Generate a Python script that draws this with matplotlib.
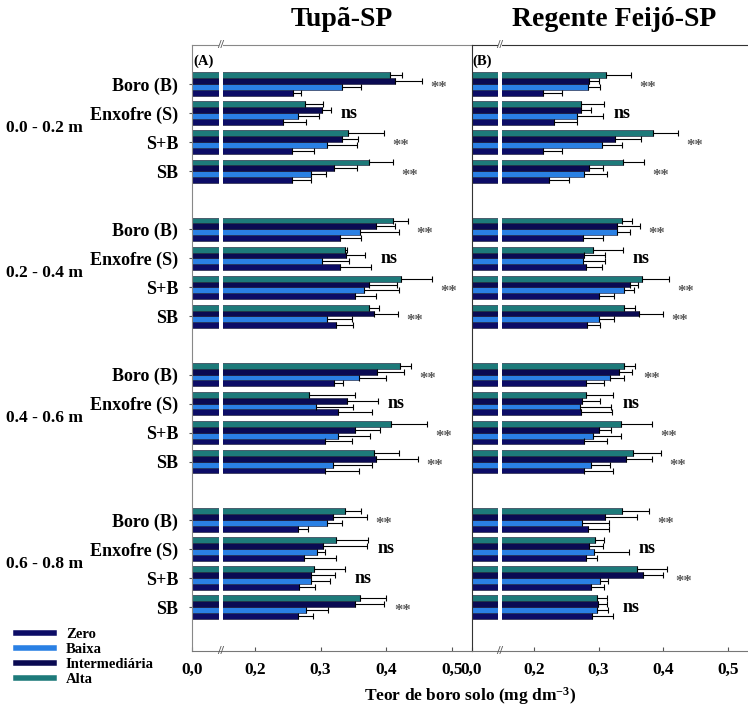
import numpy as np
import matplotlib
matplotlib.use("Agg")
import matplotlib.pyplot as plt
from matplotlib.lines import Line2D
from matplotlib.transforms import blended_transform_factory

plt.rcParams["font.family"] = ["Liberation Serif", "DejaVu Serif"]
plt.rcParams["font.weight"] = "bold"
plt.rcParams["mathtext.fontset"] = "custom"
plt.rcParams["mathtext.rm"] = "Liberation Serif:bold"
plt.rcParams["mathtext.bf"] = "Liberation Serif:bold"
plt.rcParams["mathtext.default"] = "bf"

# categories
sites = ["Tupã-SP", "Regente Feijó-SP"]
panel_tags = ["(A)", "(B)"]
treatments = ["Boro (B)", "Enxofre (S)", "S+B", "SB"]
depths = ["0.0 - 0.2 m", "0.2 - 0.4 m", "0.4 - 0.6 m", "0.6 - 0.8 m"]
levels = ["Zero", "Baixa", "Intermediária", "Alta"]
tick_vals = [0.0, 0.2, 0.3, 0.4, 0.5]

# Tupã-SP, 16 blocks: depth by depth, Boro / Enxofre / S+B / SB
tupa_zero = [0.258, 0.243, 0.257, 0.257, 0.330, 0.330, 0.352, 0.324,
             0.321, 0.326, 0.307, 0.306, 0.266, 0.275, 0.267, 0.265]
tupa_zero_err = [0.012, 0.034, 0.033, 0.028, 0.032, 0.047, 0.033, 0.026,
                 0.013, 0.052, 0.041, 0.053, 0.015, 0.049, 0.024, 0.023]
tupa_baixa = [0.332, 0.266, 0.309, 0.285, 0.360, 0.302, 0.366, 0.310,
              0.358, 0.293, 0.326, 0.319, 0.310, 0.295, 0.285, 0.277]
tupa_baixa_err = [0.029, 0.032, 0.047, 0.023, 0.059, 0.042, 0.053, 0.038,
                  0.042, 0.056, 0.050, 0.060, 0.023, 0.012, 0.030, 0.034]
tupa_inter = [0.413, 0.302, 0.333, 0.320, 0.385, 0.338, 0.373, 0.381,
              0.386, 0.340, 0.353, 0.385, 0.319, 0.303, 0.286, 0.353]
tupa_inter_err = [0.042, 0.014, 0.024, 0.035, 0.028, 0.029, 0.044, 0.037,
                  0.041, 0.047, 0.037, 0.063, 0.051, 0.067, 0.036, 0.044]
tupa_alta = [0.406, 0.276, 0.341, 0.373, 0.411, 0.337, 0.423, 0.374,
             0.421, 0.283, 0.408, 0.381, 0.337, 0.324, 0.290, 0.360]
tupa_alta_err = [0.018, 0.027, 0.056, 0.038, 0.022, 0.003, 0.046, 0.015,
                 0.016, 0.069, 0.054, 0.039, 0.024, 0.048, 0.047, 0.040]
tupa_sig = ["**", "ns", "**", "**", "**", "ns", "**", "**",
            "**", "ns", "**", "**", "**", "ns", "ns", "**"]

# Regente Feijó-SP
rf_zero = [0.214, 0.232, 0.215, 0.224, 0.276, 0.280, 0.300, 0.282,
           0.280, 0.273, 0.278, 0.278, 0.283, 0.281, 0.288, 0.290]
rf_zero_err = [0.029, 0.034, 0.028, 0.031, 0.031, 0.025, 0.024, 0.021,
               0.028, 0.048, 0.035, 0.044, 0.033, 0.017, 0.020, 0.032]
rf_baixa = [0.283, 0.266, 0.306, 0.277, 0.328, 0.276, 0.339, 0.300,
            0.318, 0.272, 0.291, 0.288, 0.274, 0.293, 0.302, 0.298]
rf_baixa_err = [0.019, 0.041, 0.030, 0.036, 0.020, 0.034, 0.016, 0.024,
                0.021, 0.048, 0.044, 0.029, 0.042, 0.054, 0.013, 0.017]
rf_inter = [0.285, 0.273, 0.325, 0.285, 0.328, 0.277, 0.348, 0.362,
            0.331, 0.274, 0.301, 0.342, 0.310, 0.285, 0.369, 0.299]
rf_inter_err = [0.015, 0.016, 0.040, 0.022, 0.036, 0.033, 0.013, 0.038,
                0.021, 0.028, 0.018, 0.041, 0.049, 0.022, 0.030, 0.014]
rf_alta = [0.312, 0.273, 0.384, 0.338, 0.336, 0.291, 0.367, 0.339,
           0.339, 0.280, 0.335, 0.353, 0.336, 0.295, 0.359, 0.298]
rf_alta_err = [0.038, 0.035, 0.039, 0.032, 0.015, 0.046, 0.041, 0.018,
               0.018, 0.042, 0.047, 0.044, 0.042, 0.014, 0.047, 0.015]
rf_sig = ["**", "ns", "**", "**", "**", "ns", "**", "**",
          "**", "ns", "**", "**", "**", "ns", "**", "ns"]

colors = ["#0c0c66", "#2a80e4", "#0a0a52", "#1d7a7a"]
bar_off = [0.3, 0.1, -0.1, -0.3]  # Zero at bottom, Alta on top

# broken x axis: 0 .. brk squeezed into a short segment
brk = 0.15
u0 = 0.104
k = (brk - u0) / brk


def fwd(x):
    x = np.asarray(x, dtype=float)
    return np.where(x < brk, u0 + k * x, x)


def inv(u):
    u = np.asarray(u, dtype=float)
    return np.where(u < brk, (u - u0) / k, u)


fig = plt.figure(figsize=(7.48, 7.10), dpi=100)
ax_a = fig.add_axes([0.2567, 0.0831, 0.3737, 0.8535])
ax_b = fig.add_axes([0.6304, 0.0831, 0.3690, 0.8535])

ypos = np.array([g * 5 + t for g in range(4) for t in range(4)], dtype=float)


def draw_panel(ax, means, errs, sig, tag, edge):
    ax.set_xscale("function", functions=(fwd, inv))
    for vals, err, c, off in zip(means, errs, colors, bar_off):
        ax.barh(ypos + off, vals, height=0.2, color=c, edgecolor="#151530",
                linewidth=0.4, xerr=[np.zeros(len(err)), err],
                error_kw=dict(ecolor="black", elinewidth=0.8, capsize=2, capthick=0.8),
                zorder=2)
    # white gap of the axis break through the bars
    ax.axvspan(inv(0.1455), 0.1505, color="white", zorder=3, lw=0)
    tops = np.max(np.array(means) + np.array(errs), axis=0)
    for yb, xe, s in zip(ypos, tops, sig):
        if s == "ns":
            ax.annotate(s, xy=(xe, yb), xytext=(7, 0), textcoords="offset points",
                        ha="left", va="center", fontsize=13, color="black")
        else:
            ax.annotate(s, xy=(xe, yb + 0.15), xytext=(6, 0), textcoords="offset points",
                        ha="left", va="center", fontsize=12, color="#5a5a5a")
    ax.set_xlim(0, 0.53)
    ax.set_ylim(19.51, -1.34)
    ax.set_xticks(tick_vals)
    ax.set_xticklabels([f"{v:.1f}".replace(".", ",") for v in tick_vals], fontsize=12.5)
    ax.minorticks_off()
    ax.tick_params(axis="x", direction="in", length=3, pad=8, color="#555555")
    ax.spines["right"].set_visible(False)
    for sp in ["left", "top"]:
        ax.spines[sp].set_color(edge)
    ax.spines["bottom"].set_color("#777777")
    bt = blended_transform_factory(ax.transData, ax.transAxes)
    for yy in (0, 1):
        ax.text(0.142, yy, "//", transform=bt, ha="center", va="center",
                fontsize=9, color="#555555", clip_on=False)
    ax.text(0.004, 0.985, tag, transform=ax.transAxes, ha="left", va="top",
            fontsize=10.5)


draw_panel(ax_a, [tupa_zero, tupa_baixa, tupa_inter, tupa_alta],
           [tupa_zero_err, tupa_baixa_err, tupa_inter_err, tupa_alta_err],
           tupa_sig, panel_tags[0], "#888888")
draw_panel(ax_b, [rf_zero, rf_baixa, rf_inter, rf_alta],
           [rf_zero_err, rf_baixa_err, rf_inter_err, rf_alta_err],
           rf_sig, panel_tags[1], "#333333")

ax_a.set_yticks(ypos)
ax_a.set_yticklabels(treatments * 4, fontsize=13)
ax_a.tick_params(axis="y", length=2, pad=8, color="#555555")
ax_b.set_yticks([])

dt = blended_transform_factory(fig.transFigure, ax_a.transData)
for g, d in enumerate(depths):
    fig.text(0.008, g * 5 + 1.5, d, transform=dt, ha="left", va="center", fontsize=12.5)

fig.text(342 / 748, 0.973, sites[0], ha="center", va="center", fontsize=20)
fig.text(614 / 748, 0.973, sites[1], ha="center", va="center", fontsize=20)
fig.text(470 / 748, 0.019, "Teor de boro solo (mg dm$^{-3}$)", ha="center",
         va="center", fontsize=12.5)

handles = [Line2D([], [], color=c, lw=4) for c in colors]
fig.legend(handles, levels, loc="upper left", bbox_to_anchor=(0.012, 0.126),
           frameon=False, fontsize=10.5, handlelength=2.6, handletextpad=0.8,
           labelspacing=0.12, borderpad=0)

fig.savefig("out.png", dpi=100)
